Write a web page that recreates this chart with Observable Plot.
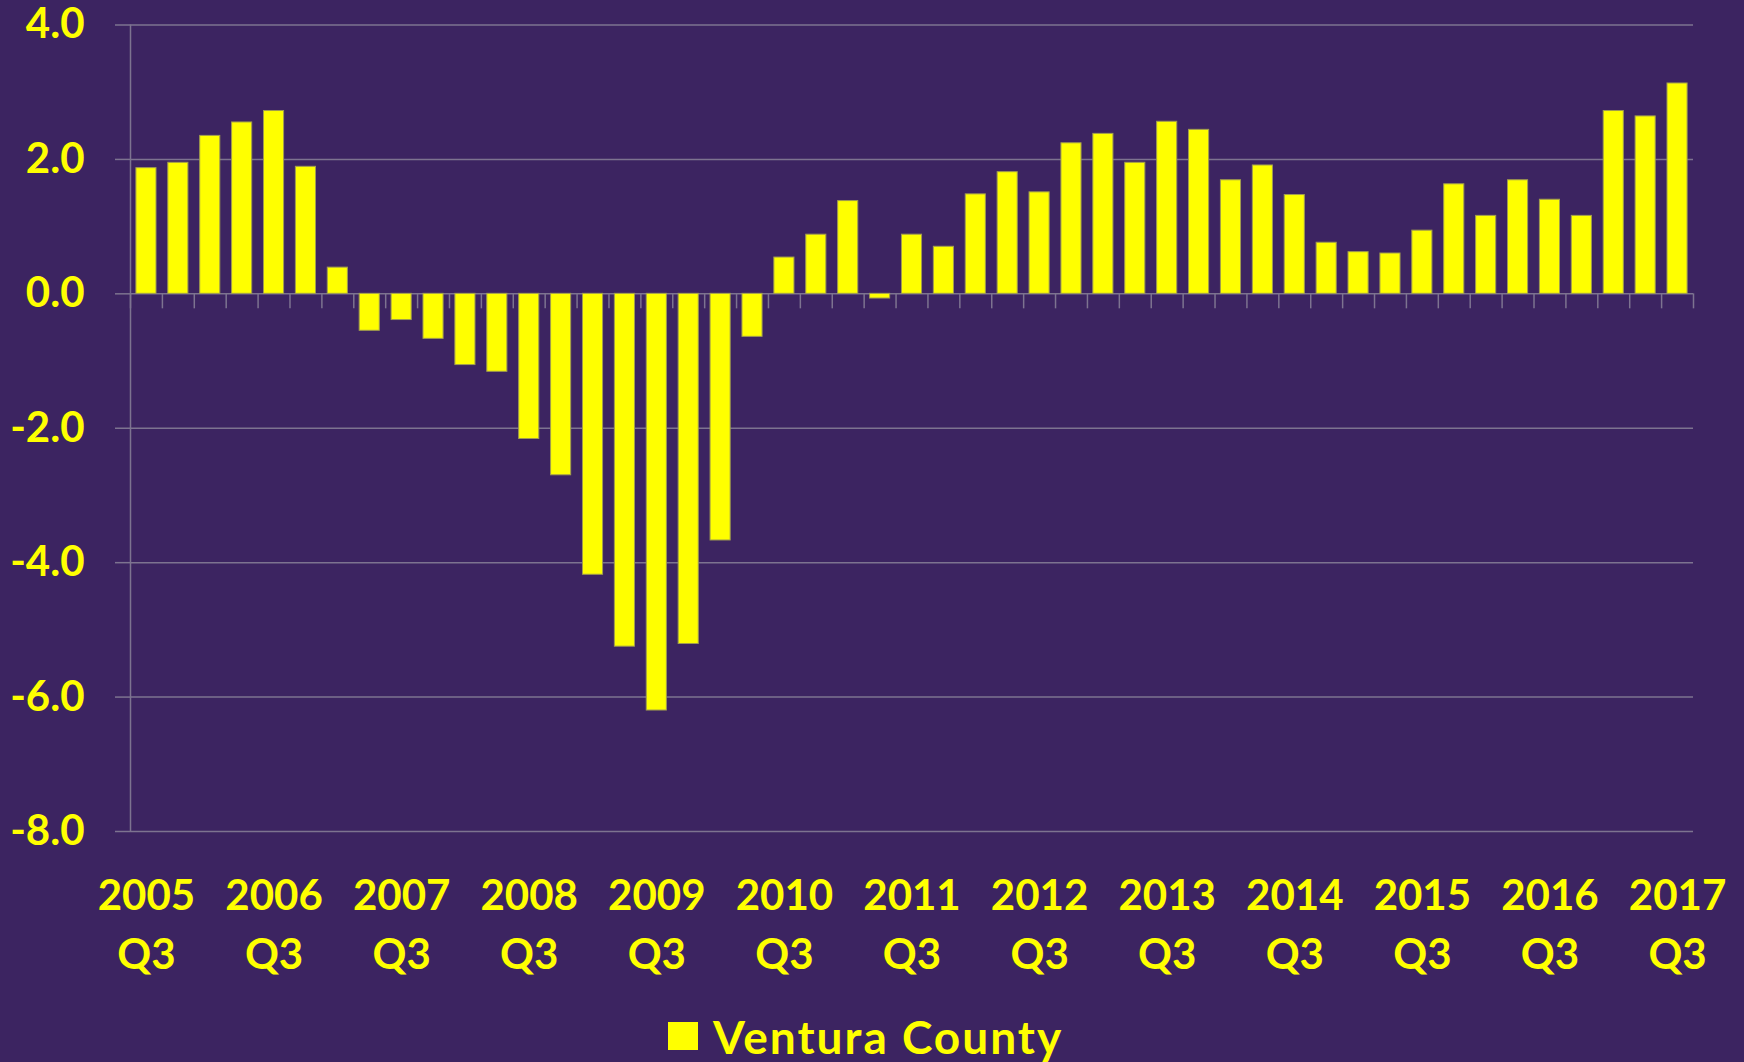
<!DOCTYPE html>
<html>
<head>
<meta charset="utf-8">
<script src="https://cdn.jsdelivr.net/npm/d3@7"></script>
<script src="https://cdn.jsdelivr.net/npm/@observablehq/plot@0.6"></script>
<style>
  html, body { margin: 0; padding: 0; background: #3c2461; overflow: hidden; }
  body { width: 1744px; height: 1062px; font-family: Lato, "Open Sans", sans-serif; color: #ffff00; }
  #legend { height: 52px; padding-top: 10px; display: flex; align-items: center; padding-left: 668px; box-sizing: content-box; }
  #legend .sw { width: 30px; height: 28px; background: #ffff00; margin-right: 15px; }
  #legend .lb { font-size: 46px; font-weight: 700; line-height: 43px; letter-spacing: 2px; white-space: nowrap; }
</style>
</head>
<body>
<div id="chart"></div>
<div id="legend"><div class="sw"></div><div class="lb">Ventura County</div></div>
<script>
// Quarters 2005 Q3 .. 2017 Q3
const quarters = d3.range(49).map(i => `${2005 + Math.floor((2 + i) / 4)} Q${(2 + i) % 4 + 1}`);
const values = [
  1.87, 1.95, 2.35, 2.55, 2.72, 1.89, 0.39, -0.55, -0.39, -0.67, -1.06, -1.16,
  -2.16, -2.70, -4.18, -5.25, -6.20, -5.21, -3.67, -0.64, 0.54, 0.88, 1.38, -0.07,
  0.88, 0.70, 1.48, 1.81, 1.51, 2.24, 2.38, 1.95, 2.56, 2.44, 1.69, 1.91,
  1.47, 0.76, 0.62, 0.60, 0.94, 1.63, 1.16, 1.69, 1.40, 1.16, 2.72, 2.64, 3.13
];
const yTicks = [-8, -6, -4, -2, 0, 2, 4];
const seriesName = "Ventura County";

const data = quarters.map((q, i) => ({q, i, v: values[i]}));
const labelQuarters = quarters.filter(q => q.endsWith("Q3"));
const labelPos = labelQuarters.map(q => quarters.indexOf(q) + 0.5);
const boundaries = d3.range(quarters.length + 1);

const gridColor = "#7d7390";
const yellow = "#ffff00";

const chart = Plot.plot({
  width: 1744,
  height: 1000,
  marginTop: 24.5,
  marginBottom: 169,
  marginLeft: 130,
  marginRight: 51,
  style: {background: "transparent", fontFamily: "Lato, 'Open Sans', sans-serif", color: yellow, overflow: "visible"},
  x: {type: "linear", domain: [0, quarters.length]},
  y: {domain: [-8, 4]},
  marks: [
    Plot.gridY(yTicks, {stroke: gridColor, strokeOpacity: 1, strokeWidth: 1.5}),
    Plot.ruleX([0], {stroke: gridColor, strokeWidth: 1.5}),
    Plot.rectY(data, {
      x1: d => d.i, x2: d => d.i + 1, y1: () => 0, y2: "v",
      insetLeft: 5.9, insetRight: 5.9,
      fill: yellow, stroke: "#a09c50", strokeWidth: 1
    }),
    Plot.ruleX(boundaries, {x: d => d, y1: () => 0, y2: () => 0, insetBottom: -15, stroke: gridColor, strokeWidth: 1.5}),
    Plot.axisY({
      ticks: yTicks, tickFormat: d => d.toFixed(1), tickSize: 15, tickPadding: 31,
      stroke: gridColor, strokeWidth: 1.5, fill: yellow, fontSize: 42, fontWeight: 700, label: null
    }),
    Plot.axisX({
      ticks: labelPos,
      tickFormat: d => quarters[d - 0.5].replace(" ", "\n"),
      tickSize: 0, tickPadding: 37, lineHeight: 1.4,
      fill: yellow, fontSize: 42, fontWeight: 700, label: null
    })
  ]
});
document.getElementById("chart").appendChild(chart);
document.querySelector("#legend .lb").textContent = seriesName;
</script>
</body>
</html>
